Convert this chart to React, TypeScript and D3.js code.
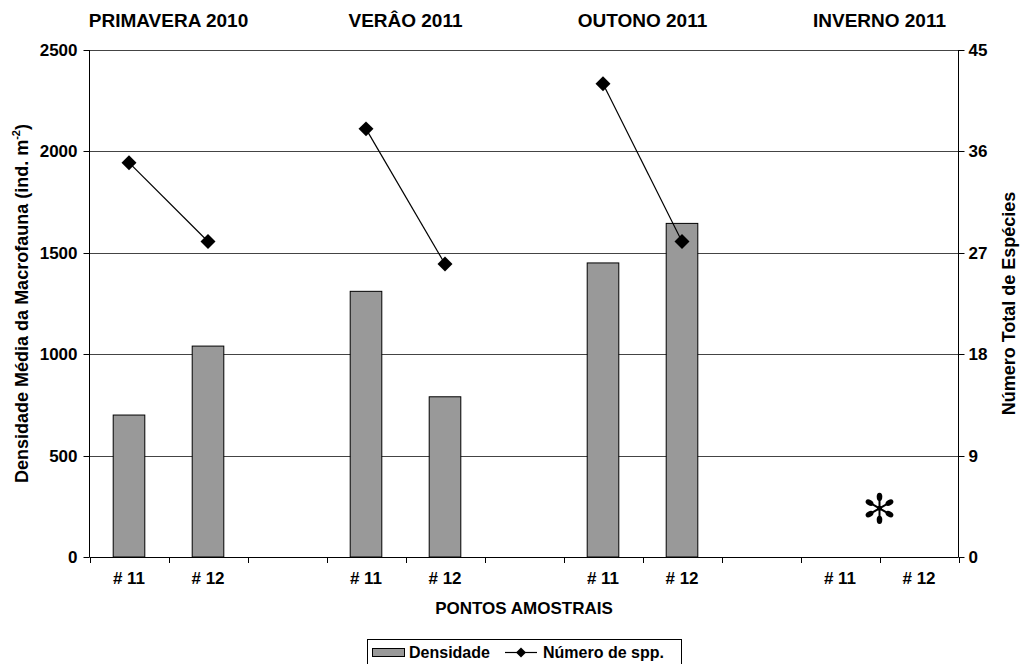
import React from "react";
import * as d3 from "d3";

// Seasons and sampling points
const seasons = ["PRIMAVERA 2010", "VERÂO 2011", "OUTONO 2011", "INVERNO 2011"];
const points = ["# 11", "# 12"];

// Mean macrofauna density (ind. m-2) per season, per point; null = not sampled
const density: (number | null)[][] = [
  [700, 1040],
  [1310, 790],
  [1450, 1645],
  [null, null],
];

// Total number of species per season, per point
const species: (number | null)[][] = [
  [35, 28],
  [38, 26],
  [42, 28],
  [null, null],
];

const leftTicks = [0, 500, 1000, 1500, 2000, 2500];
const rightTicks = [0, 9, 18, 27, 36, 45];

const W = 1020;
const H = 664;
const X0 = 89.5;
const X1 = 958.5;
const Y0 = 50;
const Y1 = 557;
const FONT = "'Liberation Sans', Arial, sans-serif";

// slot layout: two points per season, then an empty slot between seasons
const slotCount = seasons.length * 3 - 1;
const slotIndex = (s: number, p: number) => s * 3 + p;

function Asterisk({ cx, cy }: { cx: number; cy: number }) {
  const arms = d3.range(6).map((i) => (i * Math.PI) / 3);
  const r = 11.5;
  return (
    <g transform={`translate(${cx},${cy})`}>
      {arms.map((a, i) => {
        const dx = Math.sin(a);
        const dy = -Math.cos(a);
        return (
          <g key={i}>
            <line x1={0} y1={0} x2={dx * r} y2={dy * r} stroke="#000" strokeWidth={2} />
            <ellipse
              cx={dx * r}
              cy={dy * r}
              rx={2.8}
              ry={4.2}
              transform={`rotate(${(a * 180) / Math.PI},${dx * r},${dy * r})`}
              fill="#000"
            />
          </g>
        );
      })}
      <circle r={2.5} fill="#000" />
    </g>
  );
}

export default function App() {
  const x = d3.scaleBand<number>().domain(d3.range(slotCount)).range([X0, X1]).paddingInner(0).paddingOuter(0);
  const bw = x.bandwidth();
  const barW = bw * 0.4;
  const yL = d3.scaleLinear().domain([0, 2500]).range([Y1, Y0]);
  const yR = d3.scaleLinear().domain([0, 45]).range([Y1, Y0]);

  const diamond = d3.symbol().type(d3.symbolSquare).size(112)();
  const line = d3
    .line<[number, number]>()
    .x((d) => d[0])
    .y((d) => d[1]);

  const asteriskDensity = 240;

  return (
    <svg
      width={W}
      height={H}
      style={{ position: "absolute", left: 0, top: 0, background: "#fff" }}
      fontFamily={FONT}
      fontWeight="bold"
    >
      <rect width={W} height={H} fill="#fff" />

      {/* gridlines */}
      {leftTicks
        .filter((t) => t > 0)
        .map((t) => (
          <line key={t} x1={X0} x2={X1} y1={Math.round(yL(t)) + 0.5} y2={Math.round(yL(t)) + 0.5} stroke="#444" strokeWidth={1} />
        ))}

      {/* season headers, centred between the two points */}
      {seasons.map((s, i) => (
        <text key={s} x={x(slotIndex(i, 1))!} y={27} textAnchor="middle" fontSize={19}>
          {s}
        </text>
      ))}

      {/* bars */}
      {density.map((row, s) =>
        row.map((v, p) =>
          v == null ? null : (
            <rect
              key={`${s}-${p}`}
              x={x(slotIndex(s, p))! + (bw - barW) / 2}
              y={yL(v)}
              width={barW}
              height={yL(0) - yL(v)}
              fill="#999999"
              stroke="#000"
              strokeWidth={1}
            />
          )
        )
      )}

      {/* axes */}
      <line x1={X0} x2={X0} y1={Y0} y2={Y1} stroke="#000" />
      <line x1={X1} x2={X1} y1={Y0} y2={Y1} stroke="#000" />
      <line x1={X0} x2={X1} y1={Y1 + 0.5} y2={Y1 + 0.5} stroke="#000" />
      {leftTicks.map((t) => (
        <g key={t}>
          <line x1={X0 - 6} x2={X0} y1={Math.round(yL(t)) + 0.5} y2={Math.round(yL(t)) + 0.5} stroke="#000" />
          <text x={X0 - 12} y={yL(t) + 6} textAnchor="end" fontSize={17}>
            {t}
          </text>
        </g>
      ))}
      {rightTicks.map((t) => (
        <g key={t}>
          <line x1={X1} x2={X1 + 6} y1={Math.round(yR(t)) + 0.5} y2={Math.round(yR(t)) + 0.5} stroke="#000" />
          <text x={X1 + 10} y={yR(t) + 6} textAnchor="start" fontSize={17}>
            {t}
          </text>
        </g>
      ))}
      {d3.range(slotCount + 1).map((i) => {
        const xx = Math.round(X0 + i * bw) + 0.5;
        return <line key={i} x1={xx} x2={xx} y1={Y1} y2={Y1 + 6} stroke="#000" />;
      })}

      {/* point labels */}
      {seasons.map((_, s) =>
        points.map((p, j) => (
          <text key={`${s}-${j}`} x={x(slotIndex(s, j))! + bw / 2} y={584} textAnchor="middle" fontSize={17}>
            {p}
          </text>
        ))
      )}

      <text x={(X0 + X1) / 2} y={614} textAnchor="middle" fontSize={17}>
        PONTOS AMOSTRAIS
      </text>

      <text transform={`translate(28,${(Y0 + Y1) / 2}) rotate(-90)`} textAnchor="middle" fontSize={18}>
        Densidade Média da Macrofauna (ind. m
        <tspan fontSize={11} dy={-8}>-2</tspan>
        <tspan dy={8}>)</tspan>
      </text>
      <text transform={`translate(1015,${(Y0 + Y1) / 2}) rotate(-90)`} textAnchor="middle" fontSize={18}>
        Número Total de Espécies
      </text>

      {/* species lines, one segment per season */}
      {species.map((row, s) => {
        const pts = row
          .map((v, p) => (v == null ? null : ([x(slotIndex(s, p))! + bw / 2, yR(v)] as [number, number])))
          .filter((d): d is [number, number] => d != null);
        return (
          <g key={s}>
            {pts.length > 1 && <path d={line(pts)!} fill="none" stroke="#000" strokeWidth={1.2} />}
            {pts.map((d, i) => (
              <path key={i} d={diamond!} transform={`translate(${d[0]},${d[1]}) rotate(45)`} fill="#000" />
            ))}
          </g>
        );
      })}

      {/* no-data marker for the last season */}
      <Asterisk cx={x(slotIndex(3, 1))!} cy={yL(asteriskDensity)} />

      {/* legend */}
      <g>
        <rect x={367.5} y={639.5} width={314} height={26} fill="#fff" stroke="#000" />
        <rect x={372.5} y={648.5} width={32} height={8} fill="#999999" stroke="#000" />
        <text x={409} y={658} fontSize={16}>
          Densidade
        </text>
        <line x1={505} x2={537} y1={652.5} y2={652.5} stroke="#000" strokeWidth={1.2} />
        <path d={d3.symbol().type(d3.symbolSquare).size(50)()!} transform={`translate(521,652.5) rotate(45)`} fill="#000" />
        <text x={543} y={658} fontSize={16}>
          Número de spp.
        </text>
      </g>
    </svg>
  );
}
